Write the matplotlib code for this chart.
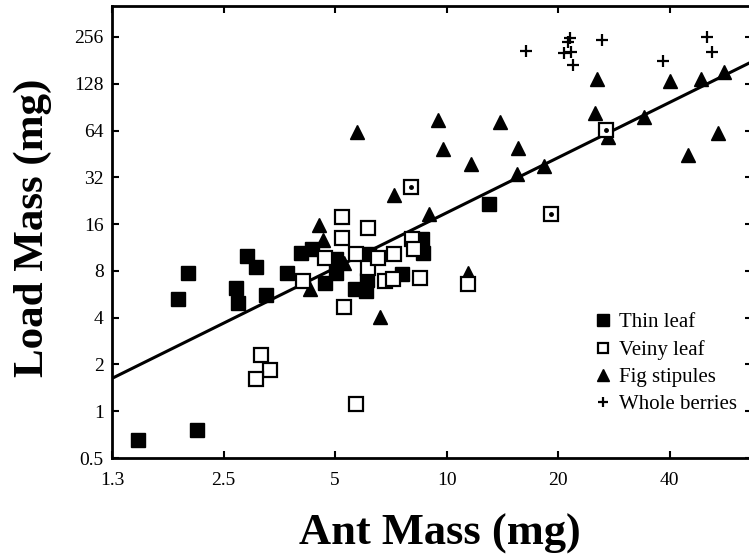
import matplotlib.pyplot as plt
import numpy as np

plt.rcParams['font.family'] = ['Liberation Serif', 'DejaVu Serif']

# ant mass (mg) vs load mass (mg)
thin_x = [1.47, 2.12, 1.88, 2.00, 2.70, 2.73, 2.89, 3.06, 3.25, 3.71, 4.05, 4.33,
          4.70, 5.03, 5.03, 5.66, 6.07, 6.10, 6.18, 7.59, 8.60, 8.65, 13.0]
thin_y = [0.65, 0.76, 5.3, 7.7, 6.2, 5.0, 10.0, 8.5, 5.6, 7.7, 10.5, 11.0,
          6.7, 9.6, 7.8, 6.15, 5.97, 7.0, 10.3, 7.6, 12.9, 10.5, 21.4]

veiny_x = [3.15, 3.34, 3.06, 5.70, 5.22, 5.22, 6.14, 4.10, 4.70, 5.29, 5.70, 6.14,
           6.54, 6.83, 7.18, 7.22, 8.08, 8.18, 8.49, 11.45, 8.03, 19.1, 27.0]
veiny_y = [2.31, 1.85, 1.62, 1.12, 17.9, 13.1, 15.0, 6.9, 9.75, 4.7, 10.2, 8.3,
           9.75, 6.9, 7.1, 10.2, 12.9, 11.0, 7.2, 6.6, 27.6, 18.7, 64.3]
# veiny leaf points drawn with a dot in the centre
dot_x = [8.03, 19.1, 27.0]
dot_y = [27.6, 18.7, 64.3]

fig_x = [4.53, 4.64, 4.28, 5.29, 6.62, 5.73, 7.22, 8.98, 9.50, 9.80, 11.6, 13.9,
         15.6, 15.5, 18.3, 25.1, 25.4, 27.2, 34.0, 40.0, 44.8, 48.6, 54.0, 56.0, 11.4]
fig_y = [15.9, 12.7, 6.1, 9.05, 4.06, 62.4, 24.5, 18.7, 74.6, 48.5, 38.8, 72.4,
         49.2, 33.5, 37.7, 82.8, 137, 58, 78, 133, 44.4, 137, 61.5, 152, 7.8]

berry_x = [16.4, 21.5, 21.3, 20.8, 21.7, 21.9, 26.2, 38.3, 50.4, 52.0]
berry_y = [208, 252, 238, 202, 205, 169, 245, 179, 256, 205]

# fitted line load = a * ant^b
fit_a = 1.25
fit_b = 1.18

xticks = [1.25, 2.5, 5, 10, 20, 40]
xtick_labels = ['1.3', '2.5', '5', '10', '20', '40']
yticks = [0.5, 1, 2, 4, 8, 16, 32, 64, 128, 256]
ytick_labels = ['0.5', '1', '2', '4', '8', '16', '32', '64', '128', '256']

fig = plt.figure(figsize=(7.49, 5.57), dpi=100)
ax = fig.add_axes([0.1495, 0.1777, 0.8545, 0.8115])
ax.set_xscale('log')
ax.set_yscale('log')
ax.set_xlim(1.25, 66.7)
ax.set_ylim(0.5, 405)

lx = np.array([1.25, 66.7])
ax.plot(lx, fit_a * lx ** fit_b, color='black', lw=2.2, zorder=2)

ax.plot(thin_x, thin_y, 's', color='black', ms=10.5, ls='none', label='Thin leaf', zorder=3)
ax.plot(veiny_x, veiny_y, 's', mfc='white', mec='black', mew=1.6, ms=9.5, ls='none',
        label='Veiny leaf', zorder=4)
ax.plot(dot_x, dot_y, '.', color='black', ms=5, ls='none', zorder=5)
ax.plot(fig_x, fig_y, '^', color='black', ms=10.5, ls='none', label='Fig stipules', zorder=3)
ax.plot(berry_x, berry_y, '+', color='black', ms=9, mew=1.6, ls='none',
        label='Whole berries', zorder=3)

ax.set_xticks(xticks)
ax.set_xticklabels(xtick_labels)
ax.set_yticks(yticks)
ax.set_yticklabels(ytick_labels)
ax.minorticks_off()
ax.tick_params(direction='in', length=5, width=1.5, labelsize=14,
               top=True, right=True)
ax.tick_params(axis='x', pad=10)
ax.tick_params(axis='y', pad=6)
for s in ax.spines.values():
    s.set_linewidth(2)

ax.set_xlabel('Ant Mass (mg)', fontsize=32, fontweight='bold')
ax.set_ylabel('Load Mass (mg)', fontsize=31, fontweight='bold')
ax.xaxis.set_label_coords(0.5125, -0.124)
ax.yaxis.set_label_coords(-0.094, 0.51)

ax.legend(loc='upper left', bbox_to_anchor=(0.732, 0.354), frameon=False, fontsize=15,
          numpoints=1, handlelength=0.8, handletextpad=0.35, labelspacing=0.37,
          markerscale=0.8, borderpad=0.2)

fig.savefig('out.png', dpi=100)
